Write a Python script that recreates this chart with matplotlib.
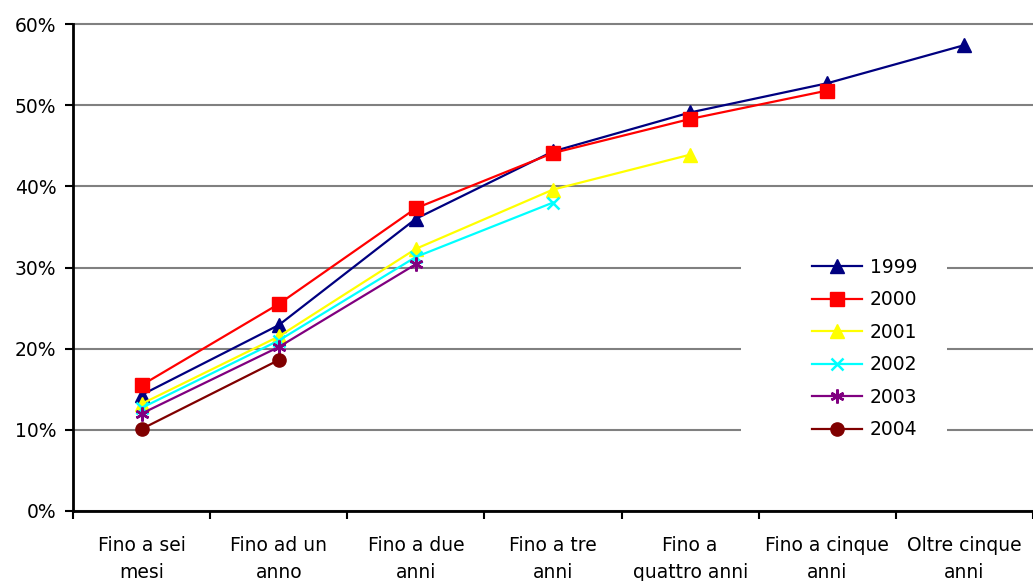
import numpy as np
import matplotlib.pyplot as plt
from matplotlib.patches import Rectangle
from matplotlib.ticker import FixedLocator, PercentFormatter

categories = ['Fino a sei\nmesi', 'Fino ad un\nanno', 'Fino a due\nanni', 'Fino a tre\nanni',
              'Fino a\nquattro anni', 'Fino a cinque\nanni', 'Oltre cinque\nanni']

v1999 = [14.3, 22.9, 36.0, 44.3, 49.1, 52.7, 57.4]
v2000 = [15.5, 25.5, 37.3, 44.1, 48.3, 51.8]
v2001 = [13.2, 21.5, 32.3, 39.6, 43.9]
v2002 = [12.7, 21.0, 31.3, 38.0]
v2003 = [12.0, 20.2, 30.4]
v2004 = [10.1, 18.6]

series = [
    ('1999', v1999, '#000080', '^', 10),
    ('2000', v2000, '#ff0000', 's', 9.5),
    ('2001', v2001, '#ffff00', '^', 10),
    ('2002', v2002, '#00ffff', 'x', 9),
    ('2003', v2003, '#800080', (6, 2, 0), 10),
    ('2004', v2004, '#800000', 'o', 9.5),
]

FS = 13.5
plt.rcParams['font.family'] = 'DejaVu Sans'
fig = plt.figure(figsize=(10.33, 5.81), dpi=100)
ax = fig.add_axes([73 / 1033, 70 / 581, 960 / 1033, 487 / 581])

for name, vals, col, mk, ms in series:
    x = np.arange(len(vals))
    mew = 1.8 if mk in ('x', (6, 2, 0)) else 1
    ax.plot(x, vals, color=col, lw=1.6, marker=mk, ms=ms, mec=col, mfc=col,
            mew=mew, label=name, zorder=3)

ax.set_xlim(-0.5, 6.5)
ax.set_ylim(0, 60)
ax.set_yticks(np.arange(0, 61, 10))
ax.yaxis.set_major_formatter(PercentFormatter(decimals=0))
ax.yaxis.grid(True, color='#808080', lw=1.5)
ax.set_axisbelow(True)
for gl in ax.get_ygridlines():
    gl.set_clip_on(False)

ax.xaxis.set_major_locator(FixedLocator(np.arange(-0.5, 6.6, 1)))
ax.xaxis.set_minor_locator(FixedLocator(np.arange(0, 7)))
ax.set_xticklabels([''] * 8)
ax.set_xticklabels(categories, minor=True)
for lbl in ax.get_xticklabels(minor=True):
    lbl.set_linespacing(1.5)
ax.tick_params(axis='x', which='minor', length=0, pad=18, labelsize=FS)
ax.tick_params(axis='x', which='major', length=6, width=1.5, direction='out')
ax.tick_params(axis='y', length=6, width=1.5, labelsize=FS, pad=6)

for s in ('top', 'right'):
    ax.spines[s].set_visible(False)
for s in ('left', 'bottom'):
    ax.spines[s].set_linewidth(2)

# white box behind the legend, hiding the gridlines
ax.add_patch(Rectangle((0.696, 0.131), 0.2146, 0.405, transform=ax.transAxes,
                       facecolor='white', edgecolor='none', zorder=1.5))

ax.legend(loc='center', bbox_to_anchor=(0.825, 0.334), frameon=False, fontsize=FS,
          handlelength=2.67, labelspacing=0.72, handletextpad=0.4, borderpad=0,
          borderaxespad=0)

fig.savefig('out.png', dpi=100)
